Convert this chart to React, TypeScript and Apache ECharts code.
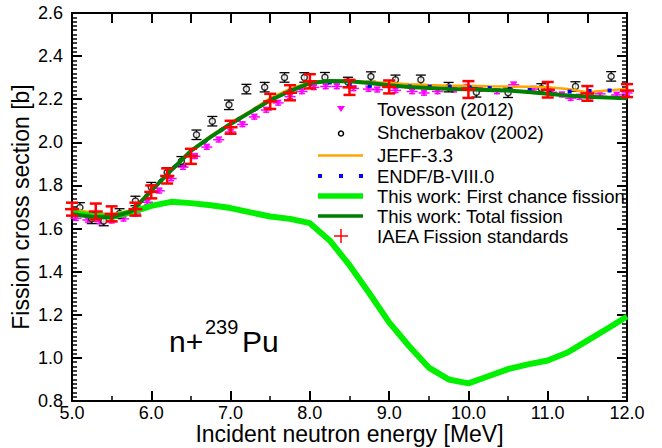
import { useEffect, useRef } from "react";
import * as echarts from "echarts";

const FONT = "'Liberation Sans', Arial, Helvetica, sans-serif";

// Energy grid (MeV) shared by the evaluated / calculated curves
const ENERGY = [
  5.0, 5.25, 5.5, 5.75, 6.0, 6.25, 6.5, 6.75, 7.0, 7.25, 7.5, 7.75, 8.0, 8.25, 8.5,
  8.75, 9.0, 9.25, 9.5, 9.75, 10.0, 10.25, 10.5, 10.75, 11.0, 11.25, 11.5, 11.75, 12.0,
];

// This work: first chance fission (b)
const FIRST_CHANCE = [
  1.673, 1.66, 1.655, 1.675, 1.705, 1.724, 1.718, 1.708, 1.695, 1.675, 1.656, 1.645, 1.625,
  1.545, 1.43, 1.3, 1.165, 1.055, 0.955, 0.9, 0.882, 0.915, 0.948, 0.97, 0.988, 1.025,
  1.08, 1.135, 1.192,
];

// This work: total fission (b)
const TOTAL = [
  1.667, 1.655, 1.652, 1.68, 1.775, 1.87, 1.96, 2.025, 2.085, 2.14, 2.195, 2.238, 2.275,
  2.285, 2.283, 2.275, 2.265, 2.257, 2.252, 2.248, 2.246, 2.243, 2.24, 2.233, 2.225, 2.217,
  2.212, 2.208, 2.205,
];

// JEFF-3.3 (b)
const JEFF = [
  1.688, 1.675, 1.665, 1.685, 1.775, 1.87, 1.962, 2.03, 2.09, 2.145, 2.205, 2.248, 2.28,
  2.285, 2.283, 2.28, 2.275, 2.27, 2.266, 2.263, 2.262, 2.26, 2.259, 2.258, 2.256, 2.247,
  2.232, 2.24, 2.248,
];

// ENDF/B-VIII.0 (b)
const ENDF = [
  1.68, 1.67, 1.658, 1.682, 1.775, 1.872, 1.955, 2.025, 2.085, 2.14, 2.195, 2.24, 2.272,
  2.278, 2.27, 2.262, 2.26, 2.259, 2.258, 2.257, 2.255, 2.252, 2.248, 2.243, 2.24, 2.235,
  2.238, 2.24, 2.242,
];

// IAEA fission standards
const IAEA_E = [5.0, 5.3, 5.5, 5.8, 6.0, 6.2, 6.5, 7.0, 7.5, 7.75, 8.0, 8.5, 9.0, 10.0, 11.0, 11.5, 12.0];
const IAEA_XS = [
  1.69, 1.679, 1.668, 1.69, 1.77, 1.844, 1.935, 2.07, 2.19, 2.23, 2.283, 2.255, 2.257, 2.245,
  2.244, 2.227, 2.24,
];
const IAEA_ERR = [
  0.03, 0.037, 0.035, 0.03, 0.03, 0.035, 0.035, 0.03, 0.035, 0.035, 0.033, 0.035, 0.03, 0.039,
  0.036, 0.034, 0.03,
];

// Tovesson (2012)
const TOV_E = [
  5.05, 5.2, 5.35, 5.5, 5.65, 5.8, 5.95, 6.1, 6.25, 6.4, 6.55, 6.7, 6.85, 7.0, 7.15, 7.3,
  7.45, 7.6, 7.75, 7.9, 8.05, 8.2, 8.34, 8.55, 8.74, 8.85, 9.08, 9.29, 9.44, 9.61, 9.82,
  9.98, 10.15, 10.36, 10.57, 10.82, 11.05, 11.18, 11.29, 11.4, 11.54, 11.66, 11.87, 12.0,
];
const TOV_XS = [
  1.648, 1.64, 1.632, 1.636, 1.645, 1.668, 1.722, 1.775, 1.832, 1.885, 1.935, 1.978, 2.012,
  2.048, 2.083, 2.118, 2.15, 2.183, 2.212, 2.236, 2.255, 2.259, 2.259, 2.25, 2.247, 2.244,
  2.241, 2.236, 2.229, 2.236, 2.244, 2.256, 2.247, 2.236, 2.267, 2.247, 2.232, 2.221, 2.205,
  2.21, 2.213, 2.225, 2.22, 2.229,
];
const TOV_ERR = 0.01;
const TOV_DE = 0.07;

// Shcherbakov (2002)
const SHCH_E = [
  5.1, 5.25, 5.4, 5.6, 5.8, 6.0, 6.2, 6.38, 6.57, 6.77, 6.98, 7.2, 7.43, 7.68, 7.93, 8.19,
  8.48, 8.77, 9.08, 9.4, 9.75, 10.1, 10.5, 10.92, 11.35, 11.8,
];
const SHCH_XS = [
  1.698, 1.645, 1.635, 1.67, 1.728, 1.792, 1.86, 1.912, 2.035, 2.098, 2.174, 2.247, 2.256,
  2.301, 2.301, 2.302, 2.28, 2.305, 2.29, 2.29, 2.256, 2.232, 2.23, 2.25, 2.259, 2.306,
];
const SHCH_ERR = 0.022;

const X_MIN = 5;
const X_MAX = 12;
const Y_MIN = 0.8;
const Y_MAX = 2.6;

const LEGEND_LABELS = [
  "Tovesson (2012)",
  "Shcherbakov (2002)",
  "JEFF-3.3",
  "ENDF/B-VIII.0",
  "This work: First chance fission",
  "This work: Total fission",
  "IAEA Fission standards",
];

const C_MAGENTA = "#ff00ff";
const C_ORANGE = "#ffa500";
const C_BLUE = "#0000ff";
const C_LIME = "#00f000";
const C_GREEN = "#008000";
const C_RED = "#ff0000";

const pair = (xs: number[], ys: number[]) => xs.map((x, i) => [x, ys[i]]);

type BarOpts = { color: string; lw: number; cap: number; cross?: number; dx?: number };

function errorBars(o: BarOpts) {
  return (_p: any, api: any) => {
    const x = api.value(0);
    const y = api.value(1);
    const e = api.value(2);
    const top = api.coord([x, y + e]);
    const bot = api.coord([x, y - e]);
    const mid = api.coord([x, y]);
    const style = { stroke: o.color, lineWidth: o.lw, fill: "none" };
    const children: any[] = [
      { type: "line", shape: { x1: top[0], y1: top[1], x2: bot[0], y2: bot[1] }, style },
      { type: "line", shape: { x1: top[0] - o.cap, y1: top[1], x2: top[0] + o.cap, y2: top[1] }, style },
      { type: "line", shape: { x1: bot[0] - o.cap, y1: bot[1], x2: bot[0] + o.cap, y2: bot[1] }, style },
    ];
    if (o.cross) {
      children.push({
        type: "line",
        shape: { x1: mid[0] - o.cross, y1: mid[1], x2: mid[0] + o.cross, y2: mid[1] },
        style,
      });
    }
    if (o.dx) {
      const l = api.coord([x - o.dx, y]);
      const r = api.coord([x + o.dx, y]);
      children.push({ type: "line", shape: { x1: l[0], y1: l[1], x2: r[0], y2: r[1] }, style });
    }
    return { type: "group", children };
  };
}

// tick-bearing axes use a plain axis line; separate frame axes draw the 2px black border on top
const plainLine = () => ({ show: true, onZero: false });
const frameLine = () => ({ show: true, onZero: false, lineStyle: { color: "#000", width: 2 } });
const mkTick = () => ({ show: true, inside: true, length: 10, lineStyle: { color: "#000", width: 2 } });
const mkMinor = (n: number) => ({ show: true, splitNumber: n, length: 5, lineStyle: { color: "#000", width: 1.5 } });
const frameAxis = (min: number, max: number, position: string) => ({
  type: "value",
  min,
  max,
  position,
  offset: 0,
  axisLine: frameLine(),
  axisTick: { show: false },
  axisLabel: { show: false },
  splitLine: { show: false },
});

export default function App() {
  const ref = useRef<HTMLDivElement>(null);

  useEffect(() => {
    if (!ref.current) return;
    const chart = echarts.init(ref.current, undefined, { renderer: "svg" });

    const legendRows = [109, 132.5, 155.5, 176, 196, 216, 236];
    const lx1 = 318;
    const lx2 = 363;
    const lc = 341;

    const graphic: any[] = [
      {
        type: "polygon",
        shape: { points: [[lc - 4, legendRows[0] - 3], [lc + 4, legendRows[0] - 3], [lc, legendRows[0] + 3]] },
        style: { fill: C_MAGENTA },
      },
      {
        type: "circle",
        shape: { cx: lc, cy: legendRows[1] + 1, r: 2.5 },
        style: { fill: "none", stroke: "#000", lineWidth: 1.5 },
      },
      {
        type: "line",
        shape: { x1: lx1, y1: legendRows[2], x2: lx2, y2: legendRows[2] },
        style: { stroke: C_ORANGE, lineWidth: 2.5 },
      },
      ...[lx1 + 2, lc, lx2 - 2].map((cx) => ({
        type: "rect",
        shape: { x: cx - 2, y: legendRows[3] - 2, width: 4, height: 4 },
        style: { fill: C_BLUE },
      })),
      {
        type: "line",
        shape: { x1: lx1, y1: legendRows[4], x2: lx2, y2: legendRows[4] },
        style: { stroke: C_LIME, lineWidth: 5.5 },
      },
      {
        type: "line",
        shape: { x1: lx1, y1: legendRows[5], x2: lx2, y2: legendRows[5] },
        style: { stroke: C_GREEN, lineWidth: 3.5 },
      },
      {
        type: "line",
        shape: { x1: lc - 7, y1: legendRows[6], x2: lc + 7, y2: legendRows[6] },
        style: { stroke: C_RED, lineWidth: 1.5 },
      },
      {
        type: "line",
        shape: { x1: lc, y1: legendRows[6] - 7, x2: lc, y2: legendRows[6] + 7 },
        style: { stroke: C_RED, lineWidth: 1.5 },
      },
      ...LEGEND_LABELS.map((t, i) => ({
        type: "text",
        x: 377,
        y: legendRows[i],
        style: {
          text: t,
          fill: "#000",
          font: `18.5px ${FONT}`,
          textAlign: "left",
          textVerticalAlign: "middle",
        },
      })),
      {
        type: "text",
        x: 169,
        y: 341,
        style: { text: "n+", fill: "#000", font: `30px ${FONT}`, textAlign: "left", textVerticalAlign: "middle" },
      },
      {
        type: "text",
        x: 205,
        y: 327,
        style: { text: "239", fill: "#000", font: `20px ${FONT}`, textAlign: "left", textVerticalAlign: "middle" },
      },
      {
        type: "text",
        x: 242,
        y: 341,
        style: { text: "Pu", fill: "#000", font: `30px ${FONT}`, textAlign: "left", textVerticalAlign: "middle" },
      },
    ];

    chart.setOption({
      animation: false,
      grid: {
        left: 72,
        top: 13,
        right: 35,
        bottom: 47,
        containLabel: false,
        outerBoundsMode: "none",
      },
      xAxis: [
        {
          type: "value",
          min: X_MIN,
          max: X_MAX,
          interval: 1,
          position: "bottom",
          axisLine: plainLine(),
          axisTick: mkTick(),
          minorTick: mkMinor(2),
          splitLine: { show: false },
          axisLabel: {
            formatter: (v: number) => v.toFixed(1),
            fontSize: 18,
            color: "#000",
            margin: 3,
            fontFamily: FONT,
          },
          name: "Incident neutron energy [MeV]",
          nameLocation: "middle",
          nameGap: 21,
          nameMoveOverlap: false,
          nameTextStyle: { fontSize: 23, color: "#000", fontFamily: FONT },
        },
        {
          type: "value",
          min: X_MIN,
          max: X_MAX,
          interval: 0.5,
          position: "top",
          axisLine: plainLine(),
          axisTick: mkTick(),
          axisLabel: { show: false },
          splitLine: { show: false },
        },
        frameAxis(X_MIN, X_MAX, "bottom"),
        frameAxis(X_MIN, X_MAX, "top"),
      ],
      yAxis: [
        {
          type: "value",
          min: Y_MIN,
          max: Y_MAX,
          interval: 0.2,
          position: "left",
          axisLine: plainLine(),
          axisTick: mkTick(),
          minorTick: mkMinor(10),
          splitLine: { show: false },
          axisLabel: {
            formatter: (v: number) => v.toFixed(1),
            fontSize: 18,
            color: "#000",
            margin: 9,
            fontFamily: FONT,
          },
          name: "Fission cross section [b]",
          nameLocation: "middle",
          nameGap: 40,
          nameMoveOverlap: false,
          nameTextStyle: { fontSize: 23, color: "#000", fontFamily: FONT },
        },
        {
          type: "value",
          min: Y_MIN,
          max: Y_MAX,
          interval: 0.2,
          position: "right",
          axisLine: plainLine(),
          axisTick: mkTick(),
          minorTick: mkMinor(10),
          axisLabel: { show: false },
          splitLine: { show: false },
        },
        frameAxis(Y_MIN, Y_MAX, "left"),
        frameAxis(Y_MIN, Y_MAX, "right"),
      ],
      graphic,
      series: [
        {
          name: "Tovesson bars",
          type: "custom",
          renderItem: errorBars({ color: C_MAGENTA, lw: 1.5, cap: 3, dx: TOV_DE }),
          data: TOV_E.map((e, i) => [e, TOV_XS[i], TOV_ERR]),
          z: 2,
        },
        {
          name: LEGEND_LABELS[0],
          type: "scatter",
          symbol: "triangle",
          symbolRotate: 180,
          symbolSize: 7,
          itemStyle: { color: C_MAGENTA },
          data: pair(TOV_E, TOV_XS),
          z: 3,
        },
        {
          name: "Shcherbakov bars",
          type: "custom",
          renderItem: errorBars({ color: "#000", lw: 1.3, cap: 5 }),
          data: SHCH_E.map((e, i) => [e, SHCH_XS[i], SHCH_ERR]),
          z: 3,
        },
        {
          name: LEGEND_LABELS[1],
          type: "scatter",
          symbol: "circle",
          symbolSize: 6,
          itemStyle: { color: "#fff", borderColor: "#000", borderWidth: 1.5 },
          data: pair(SHCH_E, SHCH_XS),
          z: 4,
        },
        {
          name: LEGEND_LABELS[2],
          type: "line",
          showSymbol: false,
          data: pair(ENERGY, JEFF),
          lineStyle: { color: C_ORANGE, width: 2.5 },
          z: 5,
        },
        {
          name: LEGEND_LABELS[3],
          type: "line",
          showSymbol: false,
          data: pair(ENERGY, ENDF),
          lineStyle: { color: C_BLUE, width: 4, type: [4, 16], cap: "butt" },
          z: 6,
        },
        {
          name: LEGEND_LABELS[4],
          type: "line",
          showSymbol: false,
          data: pair(ENERGY, FIRST_CHANCE),
          lineStyle: { color: C_LIME, width: 6 },
          z: 7,
        },
        {
          name: LEGEND_LABELS[5],
          type: "line",
          showSymbol: false,
          data: pair(ENERGY, TOTAL),
          lineStyle: { color: C_GREEN, width: 4 },
          z: 8,
        },
        {
          name: LEGEND_LABELS[6],
          type: "custom",
          renderItem: errorBars({ color: C_RED, lw: 2.5, cap: 6, cross: 7 }),
          data: IAEA_E.map((e, i) => [e, IAEA_XS[i], IAEA_ERR[i]]),
          z: 9,
        },
      ],
    });

    return () => chart.dispose();
  }, []);

  return <div ref={ref} style={{ width: 662, height: 448, position: "absolute", left: 0, top: 0 }} />;
}
